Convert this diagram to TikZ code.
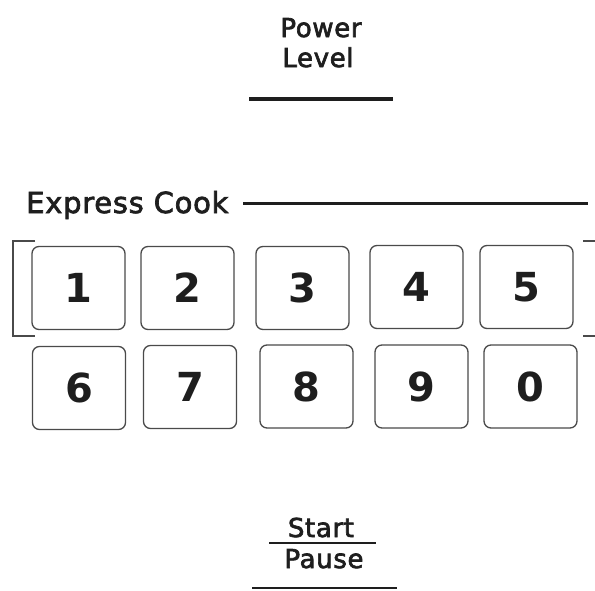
\documentclass[tikz,border=0pt]{standalone}
\usepackage{fontspec}
\setmainfont{DejaVu Sans}
\newfontfamily\panelfont[FakeBold=2.5,LetterSpace=2.5]{DejaVu Sans}
\definecolor{ink}{HTML}{1E1E1E}
\definecolor{rim}{HTML}{4A4A4A}

\begin{document}
\begin{tikzpicture}[x=1pt,y=-1pt,color=ink,
    label/.style={font=\panelfont\fontsize{26}{30}\selectfont,inner sep=0pt,anchor=base},
    rule/.style={line width=3pt}]

          \useasboundingbox (0,0) rectangle (595,590);

          % top label
          \node[label] (power) at (321,37) {Power};
          \node[label] (level) at (318,67) {Level};
          \draw[rule,line width=4.5pt] (249,99) -- (393,99);

          % express cook header
          \node[label,anchor=base west,font=\panelfont\fontsize{29}{30}\selectfont] (express) at (26,213) {Express Cook};
          \draw[rule] (243,203) -- (588,203);

          % bracket round the first row
          \draw[rim,line width=1.5pt] (35,241) -- (13,241) -- (13,336) -- (35,336);
          \draw[rim,line width=1.5pt] (583,241) -- (595,241);
          \draw[rim,line width=1.5pt] (583,336) -- (595,336);

          \begin{scope}[every node/.style={draw=rim,line width=1.3pt,rounded corners=7pt,
              minimum width=93pt,minimum height=83pt,inner sep=0pt,
              font=\fontsize{40}{40}\selectfont\bfseries,text=ink}]
            \node (1) at (78.5,288)  {1};
            \node (2) at (187.5,288) {2};
            \node (3) at (302.5,288) {3};
            \node (4) at (416.5,287) {4};
            \node (5) at (526.5,287) {5};
            \node (6) at (79,388)    {6};
            \node (7) at (190,387)   {7};
            \node (8) at (306.5,386.5) {8};
            \node (9) at (421.5,386.5) {9};
            \node (0) at (530.5,386.5) {0};
          \end{scope}

          % bottom label
          \node[label] (start) at (321,537) {Start};
          \draw[rule,line width=2.5pt] (269,543) -- (376,543);
          \node[label] (pause) at (324,568) {Pause};
          \draw[rule,line width=2.5pt] (252,588) -- (397,588);

        \end{tikzpicture}
\end{document}
